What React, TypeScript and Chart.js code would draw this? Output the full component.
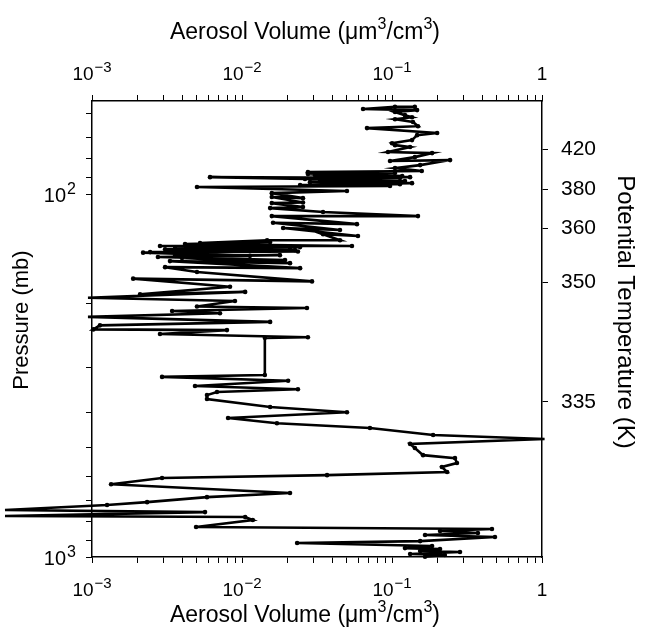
import React, { useEffect, useRef } from "react";
import { Chart, registerables } from "chart.js";

Chart.register(...registerables);

// Aerosol volume (um^3/cm^3) along the profile, bottom to top
const aerosolVolume = [
  0.166, 0.225, 0.132, 0.284, 0.154, 0.209, 0.122, 0.185, 0.0233, 0.154,
  0.486, 0.166, 0.374, 0.209, 0.464, 0.00494, 0.0118, 0.0105, 0.000263, 0.00567,
  0.000263, 0.00126, 0.00233, 0.00584, 0.0209, 0.00134, 0.00293, 0.0369, 0.233, 0.215,
  0.271, 0.263, 0.161, 0.142, 0.132, 1.04, 0.188, 0.0713, 0.0171, 0.00807,
  0.0501, 0.0154, 0.00584, 0.00584, 0.00681, 0.0236, 0.00486, 0.0203, 0.00293, 0.0142,
  0.0142, 0.0275, 0.00284, 0.00794, 0.00102, 0.00113, 0.0154, 0.00094, 0.00713, 0.00342,
  0.0271, 0.00501, 0.00898, 0.00094, 0.0105, 0.00209, 0.00832, 0.00188, 0.0293, 0.00501,
  0.00307, 0.0244,
  0.00331, 0.0209, 0.00398, 0.01935, 0.00275, 0.0179, 0.00358, 0.0113, 0.00219, 0.0236,
  0.00244, 0.02257, 0.00307, 0.0209, 0.00358, 0.0244, 0.00284, 0.0541, 0.00417, 0.0154,
  0.00525, 0.0147,
  0.045, 0.0347, 0.0593, 0.0188, 0.045, 0.0161, 0.0584, 0.0158, 0.149, 0.0347,
  0.0154, 0.0255, 0.0158, 0.0255, 0.0158, 0.0255, 0.0158, 0.0501, 0.00501, 0.097,
  0.0244, 0.136, 0.0284, 0.113, 0.0331, 0.122, 0.0263, 0.00612, 0.113, 0.0307,
  0.132, 0.0275, 0.117, 0.0275, 0.1047, 0.0275, 0.158, 0.1047, 0.154, 0.244,
  0.097, 0.142, 0.185, 0.094, 0.132, 0.1047, 0.1, 0.136, 0.147, 0.2,
  0.0681, 0.149, 0.138, 0.1047, 0.136, 0.122, 0.1047, 0.147, 0.0641, 0.1047,
  0.142,
];

// Pressure (mb) for each sample
const pressure = [
  998, 987, 981, 969, 963, 951, 945, 933, 915, 904,
  881, 870, 859, 848, 837, 827, 791, 776, 771, 752,
  742, 719, 706, 684, 666, 630, 606, 595, 583, 565,
  551, 534, 524, 501, 488, 473, 461, 441, 428, 414,
  399, 386, 367, 358, 351, 345, 338, 327, 319, 315,
  249, 248, 243, 237, 236, 230, 225, 218, 213, 210,
  206, 204, 197, 193, 186, 189, 180, 171, 174, 164,
  159, 160,
  153, 155, 150, 152, 149.1, 147.3, 148, 148, 145, 144,
  144.5, 142.7, 142, 142, 140.9, 140.0, 139, 139, 137.3, 135.6,
  136.5, 134,
  134, 129, 130.5, 124, 125.6, 120, 121, 115, 115, 112,
  109.3, 108.6, 105.9, 105.5, 101.9, 102.6, 99.4, 98.1, 95.6, 95.0,
  94.4, 93.3, 92.7, 93.9, 91.5, 92.1, 90.9, 89.8, 90.3, 88.7,
  89.8, 88.1, 89.2, 87.5, 87.5, 87.0, 86.4, 84.8, 83.2, 80.6,
  81.1, 79.1, 77.1, 76.6, 74.2, 73.3, 72.4, 71.0, 68.8, 67.9,
  65.8, 65.0, 63.3, 62.2, 61.4, 60.6, 59.4, 58.7, 58.3, 57.5,
  57.5,
];

const xMajorTicks = [0.001, 0.01, 0.1, 1];
const xTickBase = ["10", "10", "10", "1"];
const xTickExp = ["\u22123", "\u22122", "\u22121", ""];
const xMinorTicks = [
  0.002, 0.003, 0.004, 0.005, 0.006, 0.007, 0.008, 0.009,
  0.02, 0.03, 0.04, 0.05, 0.06, 0.07, 0.08, 0.09,
  0.2, 0.3, 0.4, 0.5, 0.6, 0.7, 0.8, 0.9,
];
const yMajorTicks = [100, 1000];
const yTickBase = ["10", "10"];
const yTickExp = ["2", "3"];
const yMinorTicks = [60, 70, 80, 90, 200, 300, 400, 500, 600, 700, 800, 900];
const thetaPressure = [75.2, 96.9, 124.1, 174.7, 374];
const thetaLabels = ["420", "380", "360", "350", "335"];

// title pieces: [text, isSuperscript]
const xTitleParts: [string, boolean][] = [
  ["Aerosol Volume (\u03BCm", false],
  ["3", true],
  ["/cm", false],
  ["3", true],
  [")", false],
];
const yTitle = "Pressure (mb)";
const y2Title = "Potential Temperature (K)";

const FONT = '"Liberation Sans", Arial, Helvetica, sans-serif';

const labelFor = (values: number[], labels: string[]) => (v: any) => {
  const n = Number(v);
  const i = values.findIndex((m) => Math.abs(m - n) / m < 1e-6);
  return i >= 0 ? labels[i] : "";
};

// draw "base^exp" with a real raised exponent
function drawPower(ctx: any, base: string, exp: string, x: number, y: number, align: "center" | "right", size: number) {
  const esize = Math.round(size * 0.8);
  ctx.font = `${size}px ${FONT}`;
  const wb = ctx.measureText(base).width;
  ctx.font = `${esize}px ${FONT}`;
  const we = exp ? ctx.measureText(exp).width + 1 : 0;
  const total = wb + we;
  const x0 = align === "center" ? x - total / 2 : x - total;
  ctx.textAlign = "left";
  ctx.textBaseline = "alphabetic";
  ctx.font = `${size}px ${FONT}`;
  ctx.fillText(base, x0, y);
  if (exp) {
    ctx.font = `${esize}px ${FONT}`;
    ctx.fillText(exp, x0 + wb + 1, y - size * 0.42);
  }
}

function drawTitle(ctx: any, cx: number, baseline: number, size: number) {
  const ssize = Math.round(size * 0.68);
  let total = 0;
  for (const [t, sup] of xTitleParts) {
    ctx.font = `${sup ? ssize : size}px ${FONT}`;
    total += ctx.measureText(t).width;
  }
  let x = cx - total / 2;
  ctx.textAlign = "left";
  ctx.textBaseline = "alphabetic";
  for (const [t, sup] of xTitleParts) {
    ctx.font = `${sup ? ssize : size}px ${FONT}`;
    ctx.fillText(t, x, sup ? baseline - size * 0.42 : baseline);
    x += ctx.measureText(t).width;
  }
}

const axisText = {
  id: "axisText",
  afterDraw(chart: any) {
    const { ctx, chartArea: a, scales } = chart;
    ctx.save();
    ctx.fillStyle = "#000";
    // power-of-ten tick labels placed by the scales
    xMajorTicks.forEach((v, i) => {
      const px = scales.x.getPixelForValue(v);
      drawPower(ctx, xTickBase[i], xTickExp[i], px, a.top - 21, "center", 19);
      drawPower(ctx, xTickBase[i], xTickExp[i], px, a.bottom + 39, "center", 19);
    });
    yMajorTicks.forEach((v, i) => {
      const py = scales.y.getPixelForValue(v);
      drawPower(ctx, yTickBase[i], yTickExp[i], a.left - 16, py + 8, "right", 20);
    });
    // axis titles
    drawTitle(ctx, a.left + 213, 39, 23);
    drawTitle(ctx, a.left + 213, a.bottom + 65, 23);
    ctx.textAlign = "center";
    ctx.textBaseline = "middle";
    ctx.font = `22px ${FONT}`;
    ctx.save();
    ctx.translate(a.left - 70, (a.top + a.bottom) / 2 - 9);
    ctx.rotate(-Math.PI / 2);
    ctx.fillText(yTitle, 0, 0);
    ctx.restore();
    ctx.font = `24px ${FONT}`;
    ctx.save();
    ctx.translate(a.right + 83, (a.top + a.bottom) / 2 - 17);
    ctx.rotate(Math.PI / 2);
    ctx.fillText(y2Title, 0, 0);
    ctx.restore();
    ctx.restore();
  },
};

export default function App() {
  const ref = useRef<HTMLCanvasElement | null>(null);

  useEffect(() => {
    if (!ref.current) return;
    const points = aerosolVolume.map((v, i) => ({ x: v, y: pressure[i] }));
    const grid = {
      display: true,
      drawOnChartArea: false,
      drawTicks: true,
      tickLength: 6,
      color: "#000",
      lineWidth: 1,
    };
    const border = { display: true, color: "#000", width: 1.5 };
    const hiddenTicks = { display: false, autoSkip: false };
    const setXTicks = (scale: any) => {
      scale.ticks = [...xMajorTicks, ...xMinorTicks]
        .sort((a, b) => a - b)
        .map((v) => ({ value: v }));
    };
    const setYTicks = (scale: any) => {
      scale.ticks = [...yMajorTicks, ...yMinorTicks]
        .sort((a, b) => a - b)
        .map((v) => ({ value: v }));
    };

    const chart = new Chart(ref.current, {
      type: "scatter",
      data: {
        datasets: [
          {
            data: points,
            showLine: true,
            borderColor: "#000",
            backgroundColor: "#000",
            borderWidth: 2.6,
            pointRadius: 2.3,
            pointBackgroundColor: "#000",
            pointBorderWidth: 0,
            pointHoverRadius: 0,
            tension: 0,
            clip: false,
          } as any,
        ],
      },
      options: {
        animation: false,
        responsive: true,
        maintainAspectRatio: false,
        events: [],
        layout: { padding: 0 },
        plugins: {
          legend: { display: false },
          tooltip: { enabled: false },
          title: { display: false },
        },
        scales: {
          x: {
            type: "logarithmic",
            position: "bottom",
            min: 0.001,
            max: 1,
            grid,
            border,
            ticks: hiddenTicks,
            afterBuildTicks: setXTicks,
            afterFit: (s: any) => {
              s.height = 74;
            },
          },
          x2: {
            type: "logarithmic",
            position: "top",
            min: 0.001,
            max: 1,
            grid,
            border,
            ticks: hiddenTicks,
            afterBuildTicks: setXTicks,
            afterFit: (s: any) => {
              s.height = 101;
            },
          },
          y: {
            type: "logarithmic",
            position: "left",
            reverse: true,
            min: 55.4,
            max: 1000,
            grid,
            border,
            ticks: hiddenTicks,
            afterBuildTicks: setYTicks,
            afterFit: (s: any) => {
              s.width = 92;
            },
          },
          y2: {
            type: "logarithmic",
            position: "right",
            reverse: true,
            min: 55.4,
            max: 1000,
            grid,
            border,
            ticks: {
              autoSkip: false,
              color: "#000",
              padding: 13,
              font: { family: FONT, size: 21 },
              callback: labelFor(thetaPressure, thetaLabels),
            },
            afterBuildTicks: (scale: any) => {
              scale.ticks = thetaPressure.map((v) => ({ value: v }));
            },
            afterFit: (s: any) => {
              s.width = 103;
            },
          },
        },
      } as any,
      plugins: [axisText],
    });
    return () => chart.destroy();
  }, []);

  return (
    <div style={{ position: "absolute", left: 0, top: 0, width: 645, height: 631, background: "#fff" }}>
      <canvas ref={ref} />
    </div>
  );
}
